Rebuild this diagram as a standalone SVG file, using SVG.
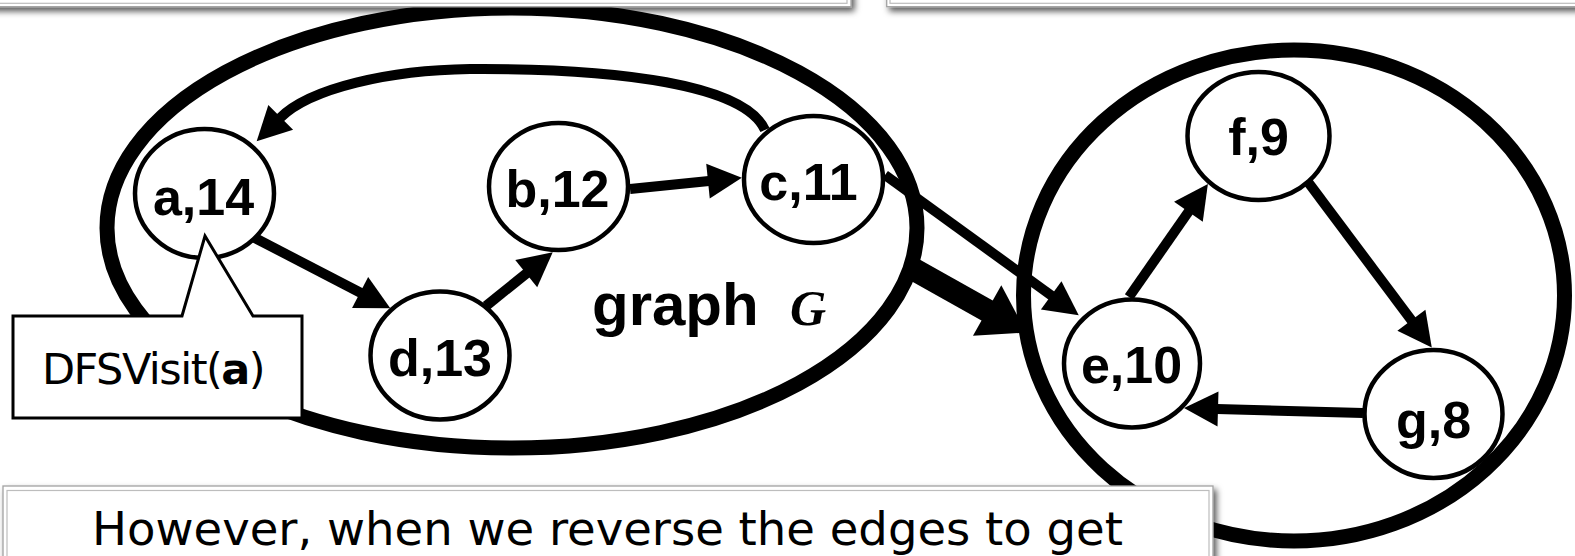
<svg xmlns="http://www.w3.org/2000/svg" width="1575" height="556" viewBox="0 0 1575 556">
  <style>
    .region { fill: none; stroke: #000; stroke-width: 15; }
    .edge { fill: none; stroke: #000; stroke-width: 10; }
    .edge-thick { fill: none; stroke: #000; stroke-width: 23; }
    .node ellipse { fill: #fff; stroke: #000; stroke-width: 4.5; }
    .node text { font-family: "Liberation Sans", Arial, sans-serif; font-weight: bold; font-size: 52px; text-anchor: middle; fill: #000; }
    .label { font-family: "Liberation Sans", Arial, sans-serif; font-weight: bold; font-size: 60px; fill: #000; }
    .math { font-family: "Liberation Serif", "Times New Roman", serif; font-style: italic; font-weight: bold; font-size: 50px; fill: #000; }
    .note { font-family: "DejaVu Sans", sans-serif; font-size: 43px; letter-spacing: -1.5px; fill: #000; }
    .box-outer { fill: #fff; stroke: #a2a2a2; stroke-width: 1.3; }
    .box-inner { fill: none; stroke: #bdbdbd; stroke-width: 1.2; }
    .box-text { font-family: "DejaVu Sans", sans-serif; font-size: 46px; fill: #000; }
  </style>
  <defs>
    <marker id="arr" markerUnits="userSpaceOnUse" markerWidth="36" markerHeight="36" refX="1" refY="17.5" orient="auto" overflow="visible">
      <path d="M0,0 L34,17.5 L0,35 Z" fill="#000"/>
    </marker>
    <marker id="arr-big" markerUnits="userSpaceOnUse" markerWidth="48" markerHeight="60" refX="1" refY="29" orient="auto" overflow="visible">
      <path d="M0,0 L45,29 L0,58 Z" fill="#000"/>
    </marker>
    <filter id="shadow" x="-5%" y="-50%" width="110%" height="200%">
      <feDropShadow dx="3" dy="4" stdDeviation="3" flood-color="#000" flood-opacity="0.65"/>
    </filter>
  </defs>

  <!-- strongly connected regions -->
  <g id="regions">
    <ellipse class="region" cx="512" cy="228" rx="405" ry="220"/>
    <ellipse class="region" cx="1294" cy="295.5" rx="270.5" ry="245.5"/>
  </g>

  <!-- connectors -->
  <g id="edges">
    <path class="edge" d="M765,130 C745,85 620,68 470,69 C390,70 310,88 280,118" marker-end="url(#arr)"/>
    <path class="edge" d="M253,237 L361,293" marker-end="url(#arr)"/>
    <path class="edge" d="M486,306 L527,273" marker-end="url(#arr)"/>
    <path class="edge" d="M630,189 L709,181" marker-end="url(#arr)"/>
    <path class="edge" d="M885,175 L1052,296" marker-end="url(#arr)"/>
    <path class="edge" d="M1129,297 L1189,211" marker-end="url(#arr)"/>
    <path class="edge" d="M1308,182 L1412,321" marker-end="url(#arr)"/>
    <path class="edge" d="M1363,413 L1217,409" marker-end="url(#arr)"/>
    <path class="edge-thick" d="M906,265 L988,311" marker-end="url(#arr-big)"/>
  </g>

  <!-- vertices with finishing times -->
  <g id="node-a" class="node">
    <ellipse cx="204.5" cy="193.5" rx="69.5" ry="64.5"/>
    <text x="203.5" y="215">a,14</text>
  </g>
  <g id="node-b" class="node">
    <ellipse cx="558.5" cy="186.5" rx="69.5" ry="63.5"/>
    <text x="557.5" y="207">b,12</text>
  </g>
  <g id="node-c" class="node">
    <ellipse cx="813.5" cy="179.5" rx="69.5" ry="63.5"/>
    <text x="808.5" y="200">c,11</text>
  </g>
  <g id="node-d" class="node">
    <ellipse cx="440" cy="355.5" rx="69.5" ry="64"/>
    <text x="440" y="376">d,13</text>
  </g>
  <g id="node-e" class="node">
    <ellipse cx="1132" cy="363.5" rx="68" ry="64"/>
    <text x="1131.5" y="383">e,10</text>
  </g>
  <g id="node-f" class="node">
    <ellipse cx="1258.5" cy="136" rx="71" ry="64"/>
    <text x="1258.5" y="155">f,9</text>
  </g>
  <g id="node-g" class="node">
    <ellipse cx="1433.5" cy="414" rx="69" ry="64"/>
    <text x="1433.5" y="438">g,8</text>
  </g>

  <!-- graph caption -->
  <g id="caption">
    <text class="label" x="592" y="325">graph</text>
    <text class="math" x="790" y="325">G</text>
  </g>

  <!-- call-out pointing at vertex a -->
  <g id="callout">
    <path d="M13,316 H182 L205,236 L253,316 H302 V418 H13 Z" fill="#fff" stroke="#000" stroke-width="3"/>
    <text class="note" x="42" y="384">DFSVisit(<tspan font-weight="bold">a</tspan>)</text>
  </g>

  <!-- slide text boxes -->
  <g id="box-top-left">
    <rect class="box-outer" x="-20" y="-60" width="871" height="66.7" filter="url(#shadow)"/>
    <rect class="box-inner" x="-20" y="-60" width="867" height="63.3"/>
  </g>
  <g id="box-top-right">
    <rect class="box-outer" x="886.7" y="-60" width="720" height="66.7" filter="url(#shadow)"/>
    <rect class="box-inner" x="890" y="-60" width="720" height="63.3"/>
  </g>
  <g id="box-bottom">
    <rect class="box-outer" x="3" y="486" width="1210" height="120" filter="url(#shadow)"/>
    <rect class="box-inner" x="7" y="490.5" width="1202" height="120"/>
    <text class="box-text" x="92" y="545" textLength="1031" lengthAdjust="spacingAndGlyphs">However, when we reverse the edges to get</text>
  </g>
</svg>
